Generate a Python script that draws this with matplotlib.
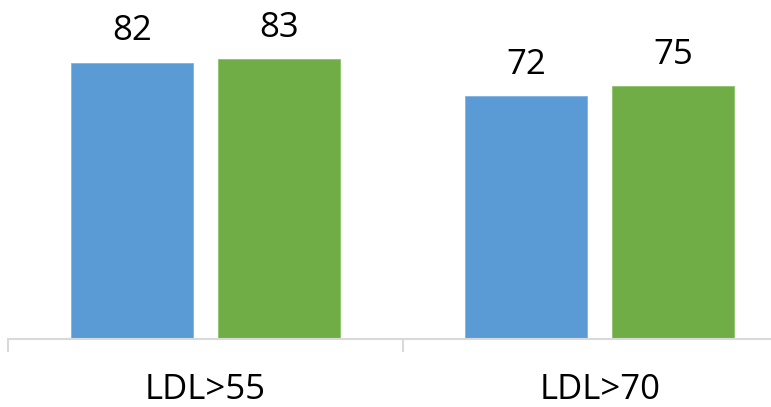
import matplotlib
matplotlib.use("Agg")
import matplotlib.pyplot as plt
import matplotlib.transforms as mtransforms
import numpy as np

categories = ["LDL>55", "LDL>70"]
series_a = [82, 72]
series_b = [83, 75]
colors = ["#5B9BD5", "#70AD47"]

plt.rcParams['font.family'] = ['Open Sans', 'DejaVu Sans']

W, H = 771, 407
fig = plt.figure(figsize=(W / 100, H / 100), dpi=100)
left_px, base_px, right_px = 8, 339, 771
ax = fig.add_axes([left_px / W, (H - base_px) / H, (right_px - left_px) / W, base_px / H])

cat_w = 394.5
x = np.arange(len(categories))
bw = 122 / cat_w
off = 73.5 / cat_w
b1 = ax.bar(x - off, series_a, bw, color=colors[0], edgecolor="#7FB2E0", linewidth=0.6)
b2 = ax.bar(x + off, series_b, bw, color=colors[1], edgecolor="#8CC46A", linewidth=0.6)

for bars, vals in ((b1, series_a), (b2, series_b)):
    for r, v in zip(bars, vals):
        ax.annotate(str(v), (r.get_x() + r.get_width() / 2, r.get_height()),
                    xytext=(0, 16), textcoords="offset points",
                    ha="center", va="baseline", fontsize=25, color="black")

trans = mtransforms.blended_transform_factory(ax.transData, ax.transAxes)
for xi, c in zip(x, categories):
    ax.text(xi, -60 / base_px, c, transform=trans, ha="center", va="baseline",
            fontsize=25, color="black")

for s in ("top", "right", "left"):
    ax.spines[s].set_visible(False)
ax.spines["bottom"].set_color("#D9D9D9")
ax.spines["bottom"].set_linewidth(1.5)
ax.set_yticks([])
ax.set_xticks([])
ax.set_xticks([-0.5, 0.5, 1.5], minor=True)
ax.tick_params(axis="x", which="minor", length=9, width=1.5, color="#D9D9D9", labelbottom=False)
ax.patch.set_alpha(0)

ax.set_xlim(-0.5, -0.5 + (right_px - left_px) / cat_w)
ax.set_ylim(0, base_px / 3.37)

fig.savefig("out.png", dpi=100)
